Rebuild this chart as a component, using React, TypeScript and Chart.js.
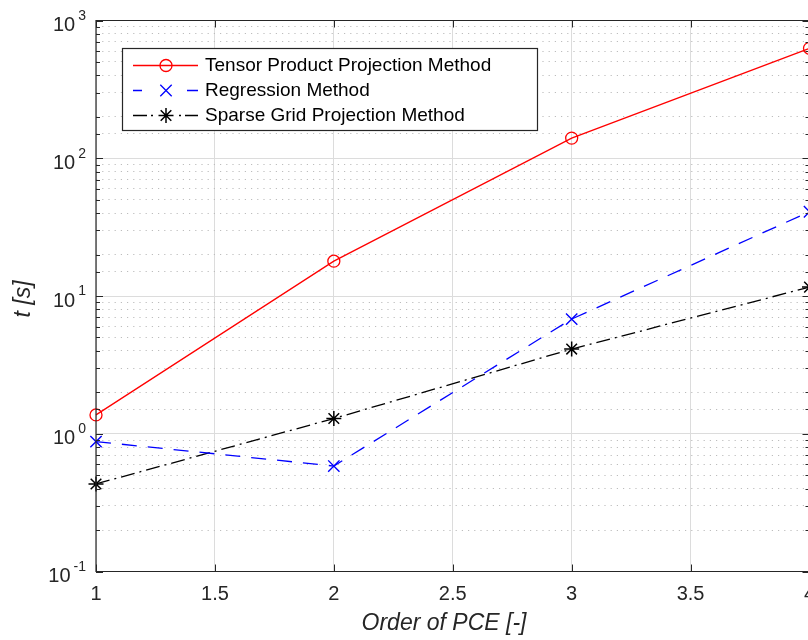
import React, { useEffect, useRef } from "react";
import { Chart, registerables } from "chart.js";

Chart.register(...registerables);

// ---- data ----
const orders = [1, 2, 3, 4];
const tensorProduct = [1.37, 17.9, 140, 628];
const regression = [0.877, 0.583, 6.8, 40.9];
const sparseGrid = [0.432, 1.29, 4.12, 11.6];
const seriesLabels = [
  "Tensor Product Projection Method",
  "Regression Method",
  "Sparse Grid Projection Method",
];
const xTickValues = [1, 1.5, 2, 2.5, 3, 3.5, 4];
const yDecades = [-1, 0, 1, 2, 3];
const xTitle = "Order of PCE [-]";
const yTitle = "t [s]";

const FONT = '"Liberation Sans", Arial, Helvetica, sans-serif';
const AXIS = "#262626";
const CANVAS_W = 840;
const CANVAS_H = 640;

const isDecade = (v: number) => {
  const l = Math.log10(v);
  return Math.abs(l - Math.round(l)) < 1e-6;
};

const decorPlugin = {
  id: "matlabDecor",
  afterDraw(chart: any) {
    const ctx = chart.ctx as CanvasRenderingContext2D;
    const { left, right, top, bottom } = chart.chartArea;
    const xs = chart.scales.x;
    const ys = chart.scales.y;
    ctx.save();

    // axis box
    ctx.strokeStyle = AXIS;
    ctx.lineWidth = 1.2;
    ctx.setLineDash([]);
    ctx.beginPath();
    ctx.rect(left, top, right - left, bottom - top);
    ctx.stroke();

    // inward ticks
    ctx.lineWidth = 1;
    ctx.beginPath();
    for (const v of xTickValues) {
      const px = Math.round(xs.getPixelForValue(v)) + 0.5;
      ctx.moveTo(px, bottom);
      ctx.lineTo(px, bottom - 7);
      ctx.moveTo(px, top);
      ctx.lineTo(px, top + 7);
    }
    for (const t of ys.ticks) {
      const py = Math.round(ys.getPixelForValue(t.value)) + 0.5;
      const len = isDecade(t.value) ? 7 : 4;
      ctx.moveTo(left, py);
      ctx.lineTo(left + len, py);
      ctx.moveTo(right, py);
      ctx.lineTo(right - len, py);
    }
    ctx.stroke();

    // x tick labels
    ctx.fillStyle = AXIS;
    ctx.font = `20px ${FONT}`;
    ctx.textAlign = "center";
    ctx.textBaseline = "middle";
    for (const v of xTickValues) {
      ctx.fillText(String(v), xs.getPixelForValue(v), 594);
    }

    // y tick labels 10^e
    for (const e of yDecades) {
      const py = ys.getPixelForValue(Math.pow(10, e));
      ctx.font = `14px ${FONT}`;
      const expStr = String(e);
      const expW = ctx.measureText(expStr).width;
      ctx.textAlign = "left";
      ctx.textBaseline = "middle";
      const expX = 86 - expW;
      ctx.fillText(expStr, expX, py - 4.5);
      ctx.font = `20px ${FONT}`;
      ctx.textAlign = "right";
      ctx.fillText("10", expX - 3, py + 5);
    }

    // axis titles
    ctx.font = `italic 23px ${FONT}`;
    ctx.textAlign = "center";
    ctx.textBaseline = "middle";
    ctx.fillText(xTitle, 444, 624);
    ctx.save();
    ctx.translate(24, 299);
    ctx.rotate(-Math.PI / 2);
    ctx.fillText(yTitle, 0, 0);
    ctx.restore();

    // legend
    const lx = 122.5, ly = 48.5, lw = 415, lh = 82;
    ctx.fillStyle = "#ffffff";
    ctx.fillRect(lx, ly, lw, lh);
    ctx.strokeStyle = AXIS;
    ctx.lineWidth = 1.2;
    ctx.strokeRect(lx, ly, lw, lh);

    const rows = [65.5, 90.5, 115.5];
    const colors = ["#ff0000", "#0000ff", "#000000"];
    const segs: number[][][] = [
      [[133, 198]],
      [[133, 142], [187, 198]],
      [[133, 147], [151, 153], [179, 181], [185, 198]],
    ];
    const mx = 166;
    for (let i = 0; i < 3; i++) {
      const y = rows[i];
      ctx.strokeStyle = colors[i];
      ctx.lineWidth = 1.3;
      ctx.beginPath();
      for (const [a, b] of segs[i]) {
        ctx.moveTo(a, y);
        ctx.lineTo(b, y);
      }
      ctx.stroke();
      ctx.beginPath();
      if (i === 0) {
        ctx.arc(mx, y, 6, 0, Math.PI * 2);
      } else if (i === 1) {
        const d = 5.7;
        ctx.moveTo(mx - d, y - d); ctx.lineTo(mx + d, y + d);
        ctx.moveTo(mx + d, y - d); ctx.lineTo(mx - d, y + d);
      } else {
        const r = 7.5, d = r * Math.SQRT1_2;
        ctx.lineWidth = 1.5;
        ctx.moveTo(mx - r, y); ctx.lineTo(mx + r, y);
        ctx.moveTo(mx, y - r); ctx.lineTo(mx, y + r);
        ctx.moveTo(mx - d, y - d); ctx.lineTo(mx + d, y + d);
        ctx.moveTo(mx + d, y - d); ctx.lineTo(mx - d, y + d);
      }
      ctx.stroke();
      ctx.fillStyle = "#000000";
      ctx.font = `19px ${FONT}`;
      ctx.textAlign = "left";
      ctx.textBaseline = "middle";
      ctx.fillText(seriesLabels[i], 205, y);
    }

    ctx.restore();
  },
};

export default function App() {
  const canvasRef = useRef<HTMLCanvasElement | null>(null);

  useEffect(() => {
    if (!canvasRef.current) return;
    const mk = (vals: number[]) => orders.map((x, i) => ({ x, y: vals[i] }));
    const chart = new Chart(canvasRef.current, {
      type: "line",
      data: {
        datasets: [
          {
            label: seriesLabels[0],
            data: mk(tensorProduct),
            borderColor: "#ff0000",
            backgroundColor: "rgba(0,0,0,0)",
            borderWidth: 1.3,
            pointStyle: "circle",
            pointRadius: 6,
            pointHoverRadius: 6,
            pointBorderWidth: 1.3,
            pointBorderColor: "#ff0000",
            pointBackgroundColor: "rgba(0,0,0,0)",
            tension: 0,
            clip: false,
          },
          {
            label: seriesLabels[1],
            data: mk(regression),
            borderColor: "#0000ff",
            backgroundColor: "rgba(0,0,0,0)",
            borderWidth: 1.3,
            borderDash: [15, 11],
            pointStyle: "crossRot",
            pointRadius: 8,
            pointHoverRadius: 8,
            pointBorderWidth: 1.4,
            pointBorderColor: "#0000ff",
            tension: 0,
            clip: false,
          },
          {
            label: seriesLabels[2],
            data: mk(sparseGrid),
            borderColor: "#000000",
            backgroundColor: "rgba(0,0,0,0)",
            borderWidth: 1.3,
            borderDash: [14, 5, 2, 5],
            pointStyle: "star",
            pointRadius: 7.5,
            pointHoverRadius: 7.5,
            pointBorderWidth: 1.5,
            pointBorderColor: "#000000",
            tension: 0,
            clip: false,
          },
        ],
      },
      options: {
        responsive: false,
        animation: false,
        devicePixelRatio: 1,
        layout: { padding: { left: 0, top: 20.5, right: CANVAS_W - 809.5, bottom: 0 } },
        plugins: {
          legend: { display: false },
          tooltip: { enabled: false },
          title: { display: false },
        },
        events: [],
        scales: {
          x: {
            type: "linear",
            min: 1,
            max: 4,
            ticks: { display: false, stepSize: 0.5 },
            grid: { color: "#dcdcdc", lineWidth: 1, drawTicks: false },
            border: { display: false },
            afterFit: (s: any) => {
              s.height = 68.5;
            },
          },
          y: {
            type: "logarithmic",
            min: 0.1,
            max: 1000,
            ticks: { display: false },
            grid: {
              drawTicks: false,
              lineWidth: 1,
              color: (c: any) =>
                c.tick && !isDecade(c.tick.value) ? "#bdbdbd" : "#dcdcdc",
            },
            border: {
              display: false,
              dash: (c: any) =>
                c.tick && !isDecade(c.tick.value) ? [1.2, 5] : [],
            },
            afterFit: (s: any) => {
              s.width = 96;
            },
          },
        },
      },
      plugins: [decorPlugin],
    } as any);
    return () => chart.destroy();
  }, []);

  return (
    <div
      style={{
        position: "fixed",
        left: 0,
        top: 0,
        width: 808,
        height: 640,
        overflow: "hidden",
        background: "#ffffff",
      }}
    >
      <canvas
        ref={canvasRef}
        width={CANVAS_W}
        height={CANVAS_H}
        style={{ display: "block", width: CANVAS_W, height: CANVAS_H }}
      />
    </div>
  );
}
